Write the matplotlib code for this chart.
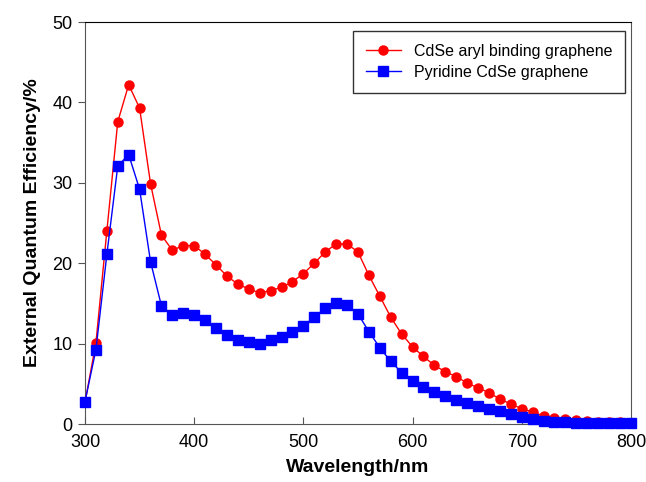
import numpy as np
import matplotlib
matplotlib.use("Agg")
import matplotlib.pyplot as plt

plt.rcParams['font.family'] = ['Liberation Sans', 'DejaVu Sans']

wavelength = np.arange(300, 801, 10)

aryl = [2.7, 10.1, 24.0, 37.6, 42.2, 39.3, 29.9, 23.5, 21.6, 22.2,
        22.2, 21.1, 19.8, 18.4, 17.4, 16.8, 16.3, 16.6, 17.0, 17.7,
        18.7, 20.0, 21.4, 22.4, 22.4, 21.4, 18.5, 15.9, 13.3, 11.2,
        9.6, 8.4, 7.3, 6.5, 5.9, 5.1, 4.5, 3.9, 3.1, 2.5,
        1.9, 1.5, 1.0, 0.8, 0.6, 0.45, 0.35, 0.3, 0.25, 0.2, 0.15]

pyridine = [2.8, 9.25, 21.1, 32.1, 33.5, 29.2, 20.2, 14.7, 13.5, 13.8,
            13.6, 12.9, 12.0, 11.1, 10.5, 10.2, 10.0, 10.4, 10.8, 11.4,
            12.2, 13.3, 14.4, 15.0, 14.8, 13.7, 11.5, 9.5, 7.8, 6.4,
            5.4, 4.6, 4.0, 3.5, 3.0, 2.6, 2.3, 1.9, 1.6, 1.2,
            0.9, 0.6, 0.35, 0.25, 0.2, 0.15, 0.12, 0.1, 0.1, 0.1, 0.1]

fig = plt.figure(figsize=(6.46, 4.82), dpi=100)
ax = fig.add_axes([0.1316, 0.1203, 0.845, 0.834])

ax.plot(wavelength, aryl, color='red', marker='o', markersize=6.5, lw=1,
        label='CdSe aryl binding graphene', clip_on=False, zorder=3)
ax.plot(wavelength, pyridine, color='blue', marker='s', markersize=6.5, lw=1,
        label='Pyridine CdSe graphene', clip_on=False, zorder=4)

ax.set_xlim(300, 800)
ax.set_ylim(0, 50)
ax.set_xticks(range(300, 801, 100))
ax.set_yticks(range(0, 51, 10))
ax.tick_params(axis='x', direction='in', length=5, labelsize=13, pad=7, color='#555555')
ax.tick_params(axis='y', direction='out', length=5, labelsize=13, pad=4, color='#555555')
ax.tick_params(top=False, right=False)

for side in ['left', 'bottom', 'right']:
    ax.spines[side].set_color('#555555')
ax.spines['top'].set_color('black')

ax.set_xlabel('Wavelength/nm', fontsize=14, fontweight='bold', labelpad=6)
ax.set_ylabel('External Quantum Efficiency/%', fontsize=14, fontweight='bold', labelpad=8)

leg = ax.legend(loc='upper right', fontsize=11.5, frameon=True, fancybox=False,
                edgecolor='black', borderpad=0.8, handlelength=2.2,
                borderaxespad=0, bbox_to_anchor=(0.989, 0.978), labelspacing=0.4)
leg.get_frame().set_linewidth(1)

fig.savefig('out.png', dpi=100)
